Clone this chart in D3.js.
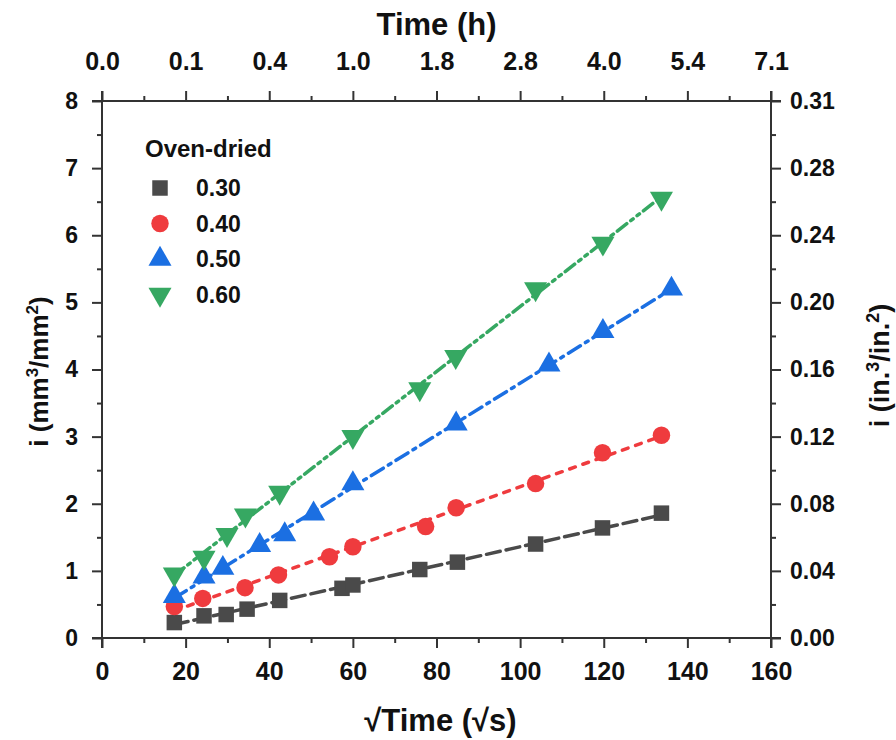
<!DOCTYPE html>
<html>
<head>
<meta charset="utf-8">
<script src="https://cdn.jsdelivr.net/npm/d3@7"></script>
<style>
  body { margin: 0; background: #fff; }
  text { font-family: Arial, "Liberation Sans", sans-serif; font-weight: bold; fill: #111; }
</style>
</head>
<body>
<div id="chart"></div>
<script>
// series: sqrt(time) in sqrt(s), i in mm3/mm2
const x030 = [17.3, 24.4, 29.7, 34.7, 42.5, 57.4, 60, 76, 85, 103.7, 119.7, 133.8];
const y030 = [0.23, 0.33, 0.35, 0.43, 0.56, 0.74, 0.79, 1.02, 1.13, 1.40, 1.64, 1.86];
const x040 = [17.3, 24.1, 34.2, 42.2, 54.4, 60, 77.4, 84.7, 103.7, 119.7, 133.8];
const y040 = [0.47, 0.59, 0.75, 0.94, 1.21, 1.36, 1.66, 1.94, 2.30, 2.76, 3.02];
const x050 = [17.3, 24.4, 28.9, 37.7, 43.7, 50.6, 60, 84.7, 106.9, 119.8, 136.2];
const y050 = [0.62, 0.91, 1.04, 1.38, 1.54, 1.85, 2.30, 3.19, 4.07, 4.57, 5.20];
const x060 = [17.3, 24.4, 29.9, 34.3, 42.5, 60, 76, 84.6, 103.7, 119.8, 133.8];
const y060 = [0.95, 1.20, 1.54, 1.83, 2.17, 3.00, 3.71, 4.19, 5.20, 5.88, 6.55];

const seriesNames = ["0.30", "0.40", "0.50", "0.60"];
const xTicks = [0, 20, 40, 60, 80, 100, 120, 140, 160];
const topTickLabels = ["0.0", "0.1", "0.4", "1.0", "1.8", "2.8", "4.0", "5.4", "7.1"];
const yTicks = [0, 1, 2, 3, 4, 5, 6, 7, 8];
const rightTickLabels = ["0.00", "0.04", "0.08", "0.12", "0.16", "0.20", "0.24", "0.28", "0.31"];

const width = 896, height = 740;
const margin = {left: 102, right: 125, top: 101, bottom: 102};

const svg = d3.select("#chart").append("svg")
  .attr("width", width).attr("height", height);

const x_scale = d3.scaleLinear().domain([0, 160]).range([margin.left, width - margin.right]);
const y_scale = d3.scaleLinear().domain([0, 8]).range([height - margin.bottom, margin.top]);

const axisColor = "#333";
const x0 = x_scale(0), x1 = x_scale(160), yb = y_scale(0), yt = y_scale(8);

// frame lines
const frame = svg.append("g").attr("stroke", axisColor).attr("stroke-width", 2);
frame.append("line").attr("x1", x0 - 10).attr("x2", x1 + 10).attr("y1", yb).attr("y2", yb);
frame.append("line").attr("x1", x0 - 10).attr("x2", x1 + 10).attr("y1", yt).attr("y2", yt);
frame.append("line").attr("x1", x0).attr("x2", x0).attr("y1", yt - 10).attr("y2", yb + 10);
frame.append("line").attr("x1", x1).attr("x2", x1).attr("y1", yt - 10).attr("y2", yb + 10);

const minorX = d3.range(10, 160, 20);
const minorY = d3.range(0.5, 8, 1);

// bottom axis
svg.append("g")
  .attr("transform", "translate(0," + yb + ")")
  .call(d3.axisBottom(x_scale).tickValues(xTicks).tickSize(10).tickPadding(14).tickFormat(d3.format("d")))
  .call(g => g.select(".domain").remove())
  .call(g => g.selectAll("line").attr("stroke", axisColor).attr("stroke-width", 2))
  .call(g => g.selectAll("text").style("font-size", "25px").attr("fill", "#111"));
svg.append("g")
  .attr("transform", "translate(0," + yb + ")")
  .call(d3.axisBottom(x_scale).tickValues(minorX).tickSize(5).tickFormat(""))
  .call(g => g.select(".domain").remove())
  .call(g => g.selectAll("line").attr("stroke", axisColor).attr("stroke-width", 2));

// top axis (hours)
svg.append("g")
  .attr("transform", "translate(0," + yt + ")")
  .call(d3.axisTop(x_scale).tickValues(xTicks).tickSize(10).tickPadding(21).tickFormat((d, i) => topTickLabels[i]))
  .call(g => g.select(".domain").remove())
  .call(g => g.selectAll("line").attr("stroke", axisColor).attr("stroke-width", 2))
  .call(g => g.selectAll("text").style("font-size", "25px").attr("fill", "#111"));
svg.append("g")
  .attr("transform", "translate(0," + yt + ")")
  .call(d3.axisTop(x_scale).tickValues(minorX).tickSize(5).tickFormat(""))
  .call(g => g.select(".domain").remove())
  .call(g => g.selectAll("line").attr("stroke", axisColor).attr("stroke-width", 2));

// left axis
svg.append("g")
  .attr("transform", "translate(" + x0 + ",0)")
  .call(d3.axisLeft(y_scale).tickValues(yTicks).tickSize(10).tickPadding(14).tickFormat(d3.format("d")))
  .call(g => g.select(".domain").remove())
  .call(g => g.selectAll("line").attr("stroke", axisColor).attr("stroke-width", 2))
  .call(g => g.selectAll("text").style("font-size", "23px").attr("fill", "#111"));
svg.append("g")
  .attr("transform", "translate(" + x0 + ",0)")
  .call(d3.axisLeft(y_scale).tickValues(minorY).tickSize(5).tickFormat(""))
  .call(g => g.select(".domain").remove())
  .call(g => g.selectAll("line").attr("stroke", axisColor).attr("stroke-width", 2));

// right axis (in.3/in.2) at the same tick positions
svg.append("g")
  .attr("transform", "translate(" + x1 + ",0)")
  .call(d3.axisRight(y_scale).tickValues(yTicks).tickSize(10).tickPadding(9).tickFormat((d, i) => rightTickLabels[i]))
  .call(g => g.select(".domain").remove())
  .call(g => g.selectAll("line").attr("stroke", axisColor).attr("stroke-width", 2))
  .call(g => g.selectAll("text").style("font-size", "23px").attr("fill", "#111"));
svg.append("g")
  .attr("transform", "translate(" + x1 + ",0)")
  .call(d3.axisRight(y_scale).tickValues(minorY).tickSize(5).tickFormat(""))
  .call(g => g.select(".domain").remove())
  .call(g => g.selectAll("line").attr("stroke", axisColor).attr("stroke-width", 2));

// axis titles
const midX = (x0 + x1) / 2, midY = (yb + yt) / 2;
svg.append("text").attr("x", midX).attr("y", 35)
  .attr("text-anchor", "middle").style("font-size", "31px").text("Time (h)");
svg.append("text").attr("x", midX + 4).attr("y", 731)
  .attr("text-anchor", "middle").style("font-size", "31px").text("√Time (√s)");
const lt = svg.append("text").attr("transform", "translate(48," + (midY + 2) + ") rotate(-90)")
  .attr("text-anchor", "middle").style("font-size", "26px");
lt.append("tspan").text("i (mm");
lt.append("tspan").attr("dy", -10).style("font-size", "17px").text("3");
lt.append("tspan").attr("dy", 10).text("/mm");
lt.append("tspan").attr("dy", -10).style("font-size", "17px").text("2");
lt.append("tspan").attr("dy", 10).text(")");
const rt = svg.append("text").attr("transform", "translate(889," + (midY - 4) + ") rotate(-90)")
  .attr("text-anchor", "middle").style("font-size", "27px");
rt.append("tspan").text("i (in.");
rt.append("tspan").attr("dy", -10).style("font-size", "18px").text("3");
rt.append("tspan").attr("dy", 10).text("/in.");
rt.append("tspan").attr("dy", -10).style("font-size", "18px").text("2");
rt.append("tspan").attr("dy", 10).text(")");

// series
const series = [
  {name: seriesNames[0], xs: x030, ys: y030, color: "#4a4a4a", symbol: d3.symbolSquare, size: 240, rot: 0, dash: "14,6"},
  {name: seriesNames[1], xs: x040, ys: y040, color: "#ef3b3e", symbol: d3.symbolCircle, size: 240, rot: 0, dash: "6,8"},
  {name: seriesNames[2], xs: x050, ys: y050, color: "#1b6fe2", symbol: d3.symbolTriangle, size: 230, rot: 0, dash: "14,6,3,6"},
  {name: seriesNames[3], xs: x060, ys: y060, color: "#36a862", symbol: d3.symbolTriangle, size: 230, rot: 180, dash: "12,5,3,5,3,5"}
];

// linear fit for each series, drawn between its first and last x
series.forEach(s => {
  const mx = d3.mean(s.xs), my = d3.mean(s.ys);
  const sxy = d3.sum(s.xs, (v, i) => (v - mx) * (s.ys[i] - my));
  const sxx = d3.sum(s.xs, v => (v - mx) * (v - mx));
  const b = sxy / sxx, a = my - b * mx;
  const xa = d3.min(s.xs), xb = d3.max(s.xs);
  svg.append("line")
    .attr("x1", x_scale(xa)).attr("y1", y_scale(a + b * xa))
    .attr("x2", x_scale(xb)).attr("y2", y_scale(a + b * xb))
    .attr("stroke", s.color).attr("stroke-width", 3.5)
    .attr("stroke-dasharray", s.dash).attr("stroke-linecap", "round");
});

series.forEach(s => {
  svg.append("g").selectAll("path")
    .data(s.xs.map((v, i) => [v, s.ys[i]]))
    .enter()
    .append("path")
    .attr("d", d3.symbol().type(s.symbol).size(s.size))
    .attr("transform", d => "translate(" + x_scale(d[0]) + "," + y_scale(d[1]) + ") rotate(" + s.rot + ")")
    .attr("fill", s.color);
});

// legend
svg.append("text").attr("x", 145).attr("y", 157).style("font-size", "24px").text("Oven-dried");
series.forEach((s, i) => {
  const ly = 188 + i * 35.5;
  svg.append("path")
    .attr("d", d3.symbol().type(s.symbol).size(s.size))
    .attr("transform", "translate(160," + ly + ") rotate(" + s.rot + ")")
    .attr("fill", s.color);
  svg.append("text").attr("x", 196).attr("y", ly + 8).style("font-size", "23px").text(s.name);
});
</script>
</body>
</html>
